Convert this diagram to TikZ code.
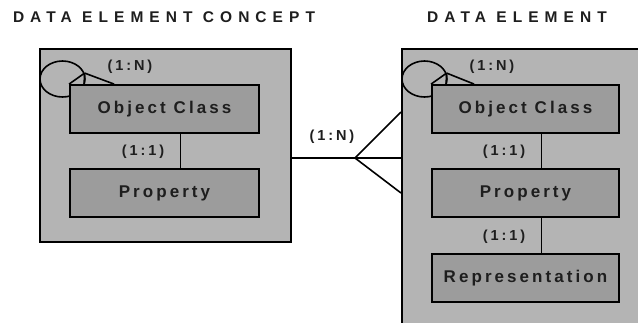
\documentclass[tikz,border=0pt]{standalone}
\usepackage{fontspec}
\setmainfont{Liberation Sans}
\usetikzlibrary{shapes.geometric}
\definecolor{outerg}{HTML}{B4B4B4}
\definecolor{innerg}{HTML}{9C9C9C}
\definecolor{txt}{HTML}{1E1E1E}
\begin{document}
\begin{tikzpicture}[x=1pt,y=-1pt,
  outerbox/.style={draw=black,fill=outerg,line width=1.8pt,inner sep=0pt,anchor=north west},
  innerbox/.style={draw=black,fill=innerg,line width=1.8pt,inner sep=0pt,minimum height=48pt,
     text=txt,font={\bfseries\fontsize{17}{19}\selectfont\addfontfeature{LetterSpace=18}}},
  ttl/.style={text=txt,inner sep=0pt,font={\bfseries\fontsize{15.5}{17}\selectfont\addfontfeature{LetterSpace=39}}},
  card/.style={text=txt,inner sep=0pt,font={\bfseries\fontsize{14.5}{16}\selectfont\addfontfeature{LetterSpace=20}}},
  loop/.style={ellipse,draw=black,fill=outerg,line width=1.6pt,inner sep=0pt,minimum width=45pt,minimum height=36pt},
  conn/.style={draw=black,line width=1.6pt}]
\useasboundingbox (0,0) rectangle (638,322);
\clip (0,0) rectangle (638,322);
\fill[white] (0,0) rectangle (638,322);

% titles
\node[ttl] (t1) at (164,17) {DATA ELEMENT CONCEPT};
\node[ttl] (t2) at (517,17) {DATA ELEMENT};

% outer boxes
\node[outerbox,minimum width=251pt,minimum height=193pt] (lout) at (39,48) {};
\node[outerbox,minimum width=260pt,minimum height=300pt] (rout) at (401,48) {};

% self loops
\node[loop] (loopL) at (62.5,79) {};
\node[loop] (loopR) at (424.5,79) {};

% inner boxes
\node[innerbox,minimum width=189pt] (loc) at (164.5,109) {Object Class};
\node[innerbox,minimum width=189pt] (lprop) at (164.5,193) {Property};
\node[innerbox,minimum width=187pt] (roc) at (525.5,109) {Object Class};
\node[innerbox,minimum width=187pt] (rprop) at (525.5,193) {Property};
\node[innerbox,minimum width=187pt] (rrep) at (525.5,278) {Representation};

% crow's feet of self loops
\coordinate (aL) at (loopL.15);
\coordinate (aR) at (loopR.15);
\draw[conn] (aL) -- (loc.north west);
\draw[conn] (aL) -- ([xshift=15pt]loc.north west);
\draw[conn] (aL) -- ([xshift=45pt]loc.north west);
\draw[conn] (aR) -- (roc.north west);
\draw[conn] (aR) -- ([xshift=15pt]roc.north west);
\draw[conn] (aR) -- ([xshift=43pt]roc.north west);
\node[card] (nL) at (130,67) {(1:N)};
\node[card] (nR) at (492,67) {(1:N)};

% inner connectors
\draw[conn] ([xshift=16pt]loc.south) -- ([xshift=16pt]lprop.north);
\draw[conn] ([xshift=16pt]roc.south) -- ([xshift=16pt]rprop.north);
\draw[conn] ([xshift=16pt]rprop.south) -- ([xshift=16pt]rrep.north);
\node[card] (c1) at (143,152) {(1:1)};
\node[card] (c2) at (504,152) {(1:1)};
\node[card] (c3) at (504,237) {(1:1)};

% connector between concepts
\coordinate (apex) at (355,158);
\draw[conn] (lout.east |- apex) -- (apex);
\draw[conn] (apex) -- (rout.west |- 0,112);
\draw[conn] (apex) -- (rout.west |- apex);
\draw[conn] (apex) -- (rout.west |- 0,193);
\node[card] (nM) at (332,137) {(1:N)};
\end{tikzpicture}
\end{document}
